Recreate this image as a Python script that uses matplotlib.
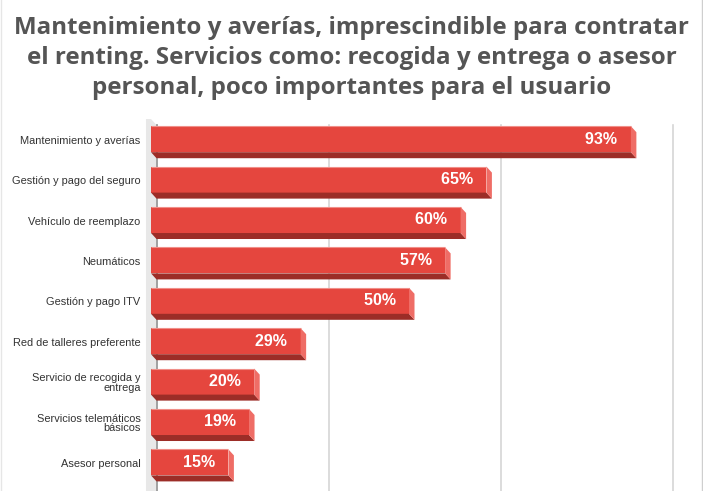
import matplotlib
matplotlib.use("Agg")
import matplotlib.pyplot as plt
from matplotlib.patches import Polygon
from matplotlib.transforms import IdentityTransform
import numpy as np

categories = ["Mantenimiento y averías", "Gestión y pago del seguro", "Vehículo de reemplazo",
              "Neumáticos", "Gestión y pago ITV", "Red de talleres preferente",
              "Servicio de recogida y\nentrega", "Servicios telemáticos\nbásicos", "Asesor personal"]
values = [93, 65, 60, 57, 50, 29, 20, 19, 15]
value_labels = ["93%", "65%", "60%", "57%", "50%", "29%", "20%", "19%", "15%"]
grid_ticks = [100/3, 200/3, 100]
title = ("Mantenimiento y averías, imprescindible para contratar\n"
         "el renting. Servicios como: recogida y entrega o asesor\n"
         "personal, poco importantes para el usuario")

W, H = 703, 491
DPI = 100
fig = plt.figure(figsize=(W/DPI, H/DPI), dpi=DPI)
fig.patch.set_facecolor("white")

ax_left, ax_right = 151, 667
ax_top = 119
ax = fig.add_axes([ax_left/W, 0, (ax_right-ax_left)/W, (H-ax_top)/H])
ax.set_zorder(1)
ax.patch.set_visible(False)
band = 40.4
ax.set_xlim(0, 100)
ax.set_ylim(-0.5 + (H-ax_top)/band, -0.5)
ax.axis("off")

DX, DY = 5.5, -6.0  # depth offset in pixels

def disp(x, y):
    return ax.transData.transform((x, y))

def poly_px(pts, **kw):
    p = Polygon(pts, closed=True, transform=IdentityTransform(), **kw)
    fig.add_artist(p)
    return p

ytop_d, ybot_d = -0.5, -0.5 + (H-ax_top)/band

# left wall
x0f, yt = disp(0, ytop_d)
xm1, _ = disp(-0.97, ytop_d)
_, yb = disp(0, ybot_d)
poly_px([(xm1, yt), (x0f, yt), (x0f+DX, yt+DY), (x0f+DX, yb-5), (xm1, yb-5)],
        facecolor="#e8e8e8", edgecolor="none", zorder=-3)

# gridlines on back wall
for g in grid_ticks:
    gx, gy = disp(g, ytop_d)
    fig.add_artist(plt.Line2D([gx+DX, gx+DX], [gy+DY, 0], transform=IdentityTransform(),
                              color="#d6d6d6", lw=1.2, zorder=-2))
# back axis line
fig.add_artist(plt.Line2D([x0f+DX, x0f+DX], [yt+DY, 0], transform=IdentityTransform(),
                          color="#9a9a9a", lw=1.3, zorder=-1))

h = 0.644
ypos = np.arange(len(values))
front = ax.barh(ypos, values, height=h, color="#e5463e", edgecolor="none", zorder=3)

for i, v in enumerate(values):
    xl, ytp = disp(0, i - h/2)
    xr, ybt = disp(v, i + h/2)
    poly_px([(xl, ybt), (xr, ybt), (xr+DX, ybt+DY), (xl+DX, ybt+DY)],
            facecolor="#9c2d27", edgecolor="none", zorder=2)
    poly_px([(xr, ytp), (xr+DX, ytp+DY), (xr+DX, ybt+DY), (xr, ybt)],
            facecolor="#ef6d66", edgecolor="none", zorder=2)
    ax.plot([0, v], [i - h/2, i - h/2], color="#f08f89", lw=0.8, zorder=4,
            solid_capstyle="butt")
    ax.text(v, i, value_labels[i] + "   ", ha="right", va="center", color="white",
            fontsize=11.5, fontweight="bold", family="Liberation Sans", zorder=5)
    ax.text(-2.0, i + 0.04, categories[i], ha="right", va="center", color="#333333",
            fontsize=7.9, family="Liberation Sans", linespacing=0.95, zorder=5)

fig.text(0.5, 1 - 58/H, title, ha="center", va="center", fontsize=17.4,
         fontweight="bold", family="Open Sans", color="#555555", linespacing=1.34)

fig.add_artist(plt.Line2D([W-1.5, W-1.5], [0, H], transform=IdentityTransform(), color="#cfcfcf", lw=1))
fig.add_artist(plt.Line2D([0.5, 0.5], [0, H], transform=IdentityTransform(), color="#e6e6e6", lw=1))

fig.savefig("out.png", dpi=DPI)
